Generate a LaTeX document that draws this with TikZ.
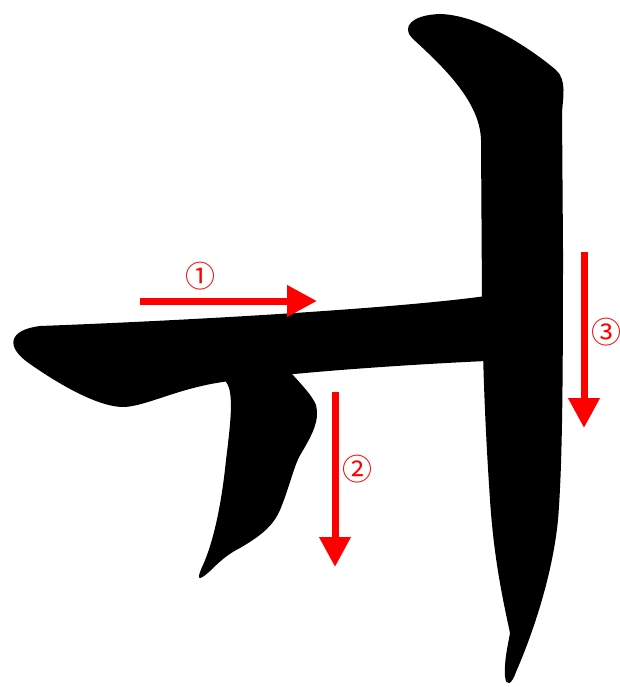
\documentclass[tikz,border=0pt]{standalone}
\usepackage{fontspec}
\newfontfamily\cjkfont{Noto Sans CJK JP}
\usetikzlibrary{arrows.meta}
\tikzset{
  glyph/.style={fill=black},
  order/.style={draw=red, line width=7pt, -{Triangle[length=30pt,width=30pt]}},
  num/.style={text=red, font=\cjkfont\fontsize{30}{30}\selectfont, inner sep=0pt}
}
\begin{document}
\begin{tikzpicture}[x=1pt,y=-1pt]
\useasboundingbox (0,0) rectangle (620,687);
% stroke 1: horizontal
\fill[glyph] (40,326) .. controls (200,320) and (400,308) .. (486,296) -- (486,361)
  .. controls (400,365) and (300,372) .. (230,381)
  .. controls (180,387) and (150,405) .. (125,407)
  .. controls (100,408) and (60,385) .. (30,364)
  .. controls (5,347) and (8,330) .. (40,326) -- cycle;
% stroke 2: left vertical
\fill[glyph] (226,370) -- (226,382) .. controls (234,392) and (231,420) .. (226,460)
  .. controls (221,510) and (212,545) .. (203,565)
  .. controls (196,580) and (198,582) .. (210,571)
  .. controls (222,559) and (230,553) .. (240,548)
  .. controls (262,535) and (275,525) .. (282,505)
  .. controls (290,485) and (295,462) .. (302,452)
  .. controls (312,435) and (320,420) .. (316,405)
  .. controls (312,395) and (300,383) .. (292,374) -- (292,360) -- cycle;
% stroke 3: right vertical with hooked top
\fill[glyph] (412,38) .. controls (402,28) and (410,15) .. (440,14)
  .. controls (480,15) and (530,48) .. (556,70)
  .. controls (567,80) and (563,98) .. (562,112)
  -- (563,250)
  .. controls (563,400) and (562,470) .. (558,520)
  .. controls (552,580) and (530,640) .. (516,672)
  .. controls (512,684) and (506,688) .. (505,676)
  .. controls (504,660) and (508,645) .. (510,633)
  .. controls (503,600) and (494,560) .. (490,500)
  .. controls (486,440) and (483,380) .. (482,300)
  -- (481,140)
  .. controls (480,100) and (440,64) .. (412,38) -- cycle;
% arrows
\coordinate (a1s) at (140,301); \coordinate (a1e) at (317,301);
\coordinate (a2s) at (335,392); \coordinate (a2e) at (335,567);
\coordinate (a3s) at (584,252); \coordinate (a3e) at (584,428);
\draw[order] (a1s) -- (a1e);
\draw[order] (a2s) -- (a2e);
\draw[order] (a3s) -- (a3e);
\node[num] (n1) at (200,276) {①};
\node[num] (n2) at (357,469) {②};
\node[num] (n3) at (606,332) {③};
\end{tikzpicture}
\end{document}
